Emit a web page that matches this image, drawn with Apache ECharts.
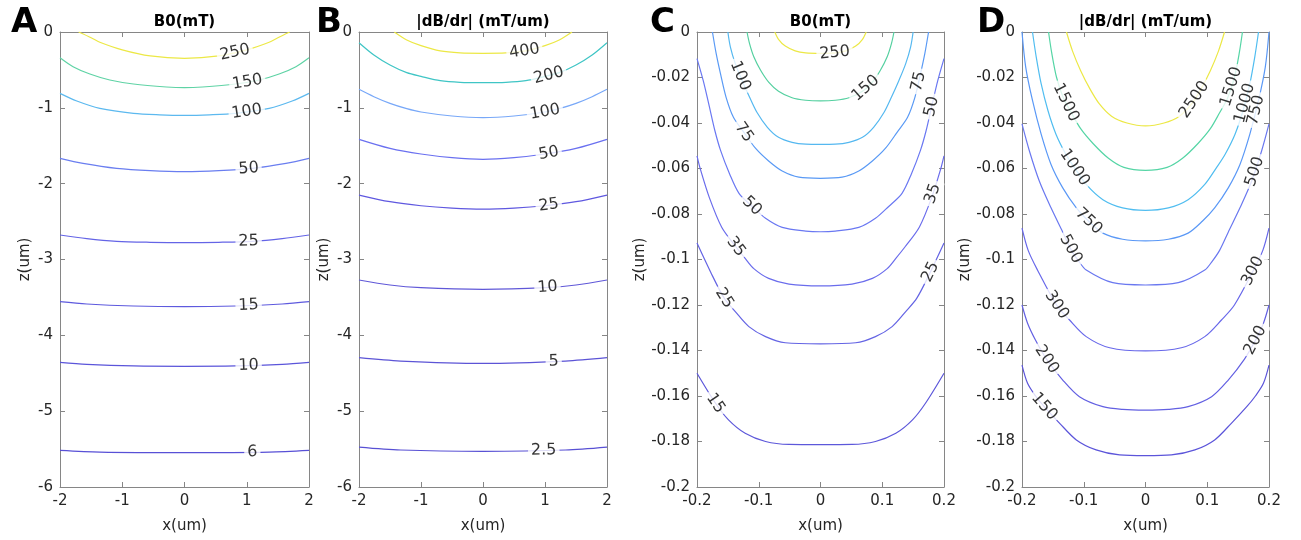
<!DOCTYPE html>
<html>
<head>
<meta charset="utf-8">
<script src="https://cdn.jsdelivr.net/npm/echarts@6/dist/echarts.min.js"></script>
<style>
html,body{margin:0;padding:0;background:#fff}
#chart{width:1301px;height:540px}
</style>
</head>
<body>
<div id="chart"></div>
<script>
// contour levels and lines, every line is [x, z] pairs from left to right
const levelsA = [250, 150, 100, 50, 25, 15, 10, 6];
const linesA = [
  [[-1.70,0],[-1.50,-0.075],[-1.36,-0.135],[-1.0,-0.235],[-0.55,-0.316],[0,-0.347],[0.55,-0.316],[1.0,-0.235],[1.36,-0.135],[1.50,-0.075],[1.69,0]],
  [[-2,-0.339],[-1.79,-0.457],[-1.52,-0.554],[-1.2,-0.633],[-0.82,-0.686],[-0.29,-0.725],[0,-0.734],[0.29,-0.725],[0.82,-0.686],[1.2,-0.633],[1.52,-0.554],[1.79,-0.457],[2,-0.339]],
  [[-2,-0.809],[-1.73,-0.91],[-1.36,-1.007],[-0.82,-1.073],[-0.4,-1.092],[0,-1.099],[0.4,-1.092],[0.82,-1.073],[1.36,-1.007],[1.73,-0.91],[2,-0.809]],
  [[-2,-1.666],[-1.63,-1.732],[-1.09,-1.798],[-0.55,-1.829],[0,-1.842],[0.55,-1.829],[1.09,-1.798],[1.63,-1.732],[2,-1.666]],
  [[-2,-2.677],[-1.57,-2.725],[-1.09,-2.76],[-0.55,-2.773],[0,-2.778],[0.55,-2.773],[1.09,-2.76],[1.57,-2.725],[2,-2.677]],
  [[-2,-3.556],[-1.57,-3.587],[-0.82,-3.613],[0,-3.622],[0.82,-3.613],[1.57,-3.587],[2,-3.556]],
  [[-2,-4.356],[-1.57,-4.382],[-0.82,-4.404],[0,-4.409],[0.82,-4.404],[1.57,-4.382],[2,-4.356]],
  [[-2,-5.517],[-1.36,-5.539],[0,-5.547],[1.36,-5.539],[2,-5.517]]
];
const labelsA = [[250,0.81],[150,1.01],[100,1.0],[50,1.03],[25,1.03],[15,1.03],[10,1.03],[6,1.09]];

const levelsB = [400, 200, 100, 50, 25, 10, 5, 2.5];
const linesB = [
  [[-1.43,0],[-1.23,-0.105],[-1.0,-0.18],[-0.69,-0.25],[-0.37,-0.276],[0,-0.281],[0.37,-0.276],[0.69,-0.25],[1.0,-0.18],[1.23,-0.105],[1.435,0]],
  [[-2,-0.141],[-1.76,-0.303],[-1.5,-0.435],[-1.23,-0.536],[-1.0,-0.585],[-0.69,-0.642],[-0.37,-0.664],[0,-0.668],[0.37,-0.664],[0.69,-0.642],[1.0,-0.585],[1.23,-0.536],[1.5,-0.435],[1.76,-0.303],[2,-0.141]],
  [[-2,-0.756],[-1.76,-0.853],[-1.5,-0.941],[-1.23,-1.011],[-1.0,-1.055],[-0.5,-1.108],[0,-1.13],[0.5,-1.108],[1.0,-1.055],[1.23,-1.011],[1.5,-0.941],[1.76,-0.853],[2,-0.756]],
  [[-2,-1.415],[-1.5,-1.534],[-1.0,-1.609],[-0.5,-1.657],[0,-1.679],[0.5,-1.657],[1.0,-1.609],[1.5,-1.534],[2,-1.415]],
  [[-2,-2.15],[-1.5,-2.238],[-1.0,-2.291],[-0.5,-2.322],[0,-2.335],[0.5,-2.322],[1.0,-2.291],[1.5,-2.238],[2,-2.15]],
  [[-2,-3.27],[-1.5,-3.336],[-1.0,-3.371],[0,-3.393],[1.0,-3.371],[1.5,-3.336],[2,-3.27]],
  [[-2,-4.295],[-1.33,-4.339],[0,-4.37],[1.33,-4.339],[2,-4.295]],
  [[-2,-5.473],[-1.33,-5.512],[0,-5.53],[1.33,-5.512],[2,-5.473]]
];
const labelsB = [[400,0.67],[200,1.06],[100,1.0],[50,1.06],[25,1.06],[10,1.04],[5,1.14],[2.5,0.98]];

const levelsC = [250, 150, 100, 75, 50, 35, 25, 15];
const linesC = [
  [[-0.074,0],[-0.068,-0.0032],[-0.057,-0.0062],[-0.041,-0.0083],[-0.024,-0.0092],[0,-0.0094],[0.024,-0.0092],[0.041,-0.0083],[0.057,-0.0062],[0.068,-0.0032],[0.074,0]],
  [[-0.119,0],[-0.115,-0.005],[-0.108,-0.0109],[-0.097,-0.0168],[-0.084,-0.022],[-0.068,-0.026],[-0.046,-0.0289],[-0.024,-0.03],[0,-0.0303],[0.024,-0.03],[0.046,-0.0289],[0.068,-0.026],[0.084,-0.022],[0.097,-0.0168],[0.108,-0.0109],[0.115,-0.005],[0.119,0]],
  [[-0.15,0],[-0.146,-0.0065],[-0.138,-0.0139],[-0.127,-0.0213],[-0.115,-0.0286],[-0.103,-0.0353],[-0.086,-0.0419],[-0.068,-0.0463],[-0.046,-0.0485],[-0.024,-0.0493],[0,-0.0494],[0.024,-0.0493],[0.046,-0.0485],[0.068,-0.0463],[0.086,-0.0419],[0.103,-0.0353],[0.115,-0.0286],[0.127,-0.0213],[0.138,-0.0139],[0.146,-0.0065],[0.15,0]],
  [[-0.175,0],[-0.169,-0.0094],[-0.162,-0.0183],[-0.153,-0.0286],[-0.141,-0.0375],[-0.124,-0.0441],[-0.105,-0.0512],[-0.084,-0.0567],[-0.062,-0.0611],[-0.035,-0.0638],[0,-0.0643],[0.035,-0.0638],[0.062,-0.0611],[0.084,-0.0567],[0.105,-0.0512],[0.124,-0.0441],[0.141,-0.0375],[0.153,-0.0286],[0.162,-0.0183],[0.169,-0.0094],[0.175,0]],
  [[-0.2,-0.0117],[-0.19,-0.0213],[-0.181,-0.0316],[-0.171,-0.0434],[-0.162,-0.0519],[-0.147,-0.0625],[-0.132,-0.0709],[-0.11,-0.0768],[-0.089,-0.0819],[-0.062,-0.0859],[-0.024,-0.0875],[0,-0.0878],[0.024,-0.0875],[0.062,-0.0859],[0.089,-0.0819],[0.11,-0.0768],[0.132,-0.0709],[0.147,-0.0625],[0.162,-0.0519],[0.171,-0.0434],[0.181,-0.0316],[0.19,-0.0213],[0.2,-0.0117]],
  [[-0.2,-0.0545],[-0.195,-0.0599],[-0.18,-0.0728],[-0.16,-0.0858],[-0.137,-0.0944],[-0.122,-0.0995],[-0.108,-0.104],[-0.084,-0.1083],[-0.051,-0.1108],[0,-0.1116],[0.051,-0.1108],[0.084,-0.1083],[0.108,-0.104],[0.122,-0.0995],[0.137,-0.0944],[0.16,-0.0858],[0.18,-0.0728],[0.195,-0.0599],[0.2,-0.0545]],
  [[-0.2,-0.0928],[-0.178,-0.1055],[-0.156,-0.117],[-0.138,-0.1229],[-0.116,-0.1295],[-0.089,-0.1339],[-0.057,-0.1366],[0,-0.1371],[0.057,-0.1366],[0.089,-0.1339],[0.116,-0.1295],[0.138,-0.1229],[0.156,-0.117],[0.178,-0.1055],[0.2,-0.0928]],
  [[-0.2,-0.15],[-0.17,-0.1632],[-0.149,-0.1705],[-0.122,-0.1764],[-0.089,-0.18],[-0.051,-0.1813],[0,-0.1814],[0.051,-0.1813],[0.089,-0.18],[0.122,-0.1764],[0.149,-0.1705],[0.17,-0.1632],[0.2,-0.15]]
];
const labelsC = [[250,0.023],[150,0.073],[100,-0.13],[75,-0.124],[75,0.159],[50,-0.111],[50,0.18],[35,-0.137],[35,0.182],[25,-0.156],[25,0.178],[15,-0.17]];

const levelsD = [2500, 1500, 1000, 750, 500, 300, 200, 150];
const linesD = [
  [[-0.128,0],[-0.118,-0.0085],[-0.105,-0.017],[-0.09,-0.025],[-0.075,-0.0315],[-0.055,-0.037],[-0.03,-0.04],[0,-0.0413],[0.03,-0.04],[0.055,-0.037],[0.075,-0.0315],[0.09,-0.025],[0.105,-0.017],[0.118,-0.0085],[0.128,0]],
  [[-0.157,0],[-0.152,-0.009],[-0.144,-0.02],[-0.133,-0.029],[-0.12,-0.0355],[-0.105,-0.0425],[-0.085,-0.049],[-0.06,-0.0555],[-0.035,-0.0595],[0,-0.0608],[0.035,-0.0595],[0.06,-0.0555],[0.085,-0.049],[0.105,-0.0425],[0.12,-0.0355],[0.133,-0.029],[0.144,-0.02],[0.152,-0.009],[0.157,0]],
  [[-0.183,0],[-0.177,-0.0109],[-0.169,-0.0227],[-0.158,-0.0345],[-0.145,-0.0449],[-0.129,-0.0537],[-0.115,-0.0596],[-0.096,-0.067],[-0.069,-0.0737],[-0.037,-0.0773],[0,-0.0784],[0.037,-0.0773],[0.069,-0.0737],[0.096,-0.067],[0.115,-0.0596],[0.129,-0.0537],[0.145,-0.0449],[0.158,-0.0345],[0.169,-0.0227],[0.177,-0.0109],[0.183,0]],
  [[-0.2,0],[-0.194,-0.0154],[-0.183,-0.0301],[-0.169,-0.0449],[-0.153,-0.0582],[-0.134,-0.0685],[-0.112,-0.0773],[-0.092,-0.0832],[-0.069,-0.0884],[-0.037,-0.0911],[0,-0.0918],[0.037,-0.0911],[0.069,-0.0884],[0.092,-0.0832],[0.112,-0.0773],[0.134,-0.0685],[0.153,-0.0582],[0.169,-0.0449],[0.183,-0.0301],[0.194,-0.0154],[0.2,0]],
  [[-0.2,-0.0404],[-0.188,-0.0523],[-0.172,-0.0655],[-0.153,-0.0773],[-0.134,-0.088],[-0.12,-0.096],[-0.108,-0.1008],[-0.096,-0.1046],[-0.053,-0.1102],[0,-0.1112],[0.053,-0.1102],[0.096,-0.1046],[0.108,-0.1008],[0.12,-0.096],[0.134,-0.088],[0.153,-0.0773],[0.172,-0.0655],[0.188,-0.0523],[0.2,-0.0404]],
  [[-0.2,-0.0862],[-0.19,-0.096],[-0.175,-0.1046],[-0.144,-0.12],[-0.123,-0.1266],[-0.096,-0.1339],[-0.058,-0.1388],[0,-0.1402],[0.058,-0.1388],[0.096,-0.1339],[0.123,-0.1266],[0.144,-0.12],[0.175,-0.1046],[0.19,-0.096],[0.2,-0.0862]],
  [[-0.2,-0.12],[-0.191,-0.128],[-0.178,-0.1355],[-0.16,-0.1439],[-0.134,-0.153],[-0.107,-0.1603],[-0.069,-0.1647],[-0.037,-0.1659],[0,-0.1662],[0.037,-0.1659],[0.069,-0.1647],[0.107,-0.1603],[0.134,-0.153],[0.16,-0.1439],[0.178,-0.1355],[0.191,-0.128],[0.2,-0.12]],
  [[-0.2,-0.1464],[-0.191,-0.1544],[-0.178,-0.16],[-0.164,-0.1647],[-0.139,-0.172],[-0.112,-0.1793],[-0.08,-0.1837],[-0.042,-0.1859],[0,-0.1862],[0.042,-0.1859],[0.08,-0.1837],[0.112,-0.1793],[0.139,-0.172],[0.164,-0.1647],[0.178,-0.16],[0.191,-0.1544],[0.2,-0.1464]]
];
const labelsD = [[2500,0.079],[1500,-0.129],[1500,0.139],[1000,-0.115],[1000,0.161],[750,-0.092],[750,0.179],[500,-0.121],[500,0.177],[300,-0.144],[300,0.174],[200,-0.16],[200,0.178],[150,-0.164]];

// line colours, one per level
const colorsA = ['#ece845','#5fd3a5','#5cb9ef','#6a7ef0','#6464e6','#5e5ade','#5b55da','#5850d6'];
const colorsB = ['#ece845','#3fc5c5','#78a8f8','#6a70f0','#5f58e0','#6058d8','#5c54d6','#5850d4'];
const colorsC = ['#ece845','#55d0a0','#55b8f0','#5a9af5','#6a78f2','#6a6cec','#6464e4','#5d58da'];
const colorsD = ['#ece845','#55d5a5','#50bdf0','#5a98f6','#6a78f0','#6868ea','#6360e2','#5c55da'];

const FONT = 'DejaVu Sans';
const panels = [
  {letter:'A', letterLeft:6,   grid:{left:60,  top:32, width:249, height:455}, xr:[-2,2,1],       yr:[-6,0,1],      title:'B0(mT)',          yGap:27, levels:levelsA, lines:linesA, labels:labelsA, colors:colorsA},
  {letter:'B', letterLeft:311, grid:{left:359, top:32, width:248, height:455}, xr:[-2,2,1],       yr:[-6,0,1],      title:'|dB/dr| (mT/um)', yGap:27, levels:levelsB, lines:linesB, labels:labelsB, colors:colorsB},
  {letter:'C', letterLeft:645, grid:{left:697, top:32, width:247, height:455}, xr:[-0.2,0.2,0.1], yr:[-0.2,0,0.02], title:'B0(mT)',          yGap:44, levels:levelsC, lines:linesC, labels:labelsC, colors:colorsC},
  {letter:'D', letterLeft:972, grid:{left:1022,top:32, width:247, height:455}, xr:[-0.2,0.2,0.1], yr:[-0.2,0,0.02], title:'|dB/dr| (mT/um)', yGap:43, levels:levelsD, lines:linesD, labels:labelsD, colors:colorsD}
];

const axisColor = '#868686';
const txt = {color:'#262626', fontSize:15, fontFamily:FONT};

function axis(p, i, pos, main) {
  const horiz = pos === 'bottom' || pos === 'top';
  const r = horiz ? p.xr : p.yr;
  const a = {
    gridIndex:i, type:'value', position:pos, min:r[0], max:r[1], interval:r[2],
    axisLine:{onZero:false, lineStyle:{color:axisColor, width:1}},
    axisTick:{show:true, inside:true, length:5, lineStyle:{color:axisColor}},
    axisLabel:{show:main, margin:7, ...txt},
    splitLine:{show:false}
  };
  if (pos === 'bottom') Object.assign(a, {name:'x(um)', nameLocation:'middle', nameGap:32, nameTextStyle:txt});
  if (pos === 'left') Object.assign(a, {name:'z(um)', nameLocation:'middle', nameGap:p.yGap, nameTextStyle:txt});
  if (pos === 'top') Object.assign(a, {name:p.title, nameLocation:'middle', nameGap:2,
    nameTextStyle:{color:'#000', fontSize:15, fontWeight:'bold', fontFamily:FONT}});
  return a;
}

function zAt(line, x) {
  for (let k = 0; k < line.length - 1; k++) {
    const a = line[k], b = line[k + 1];
    if (x >= a[0] && x <= b[0]) return a[1] + (b[1] - a[1]) * (x - a[0]) / (b[0] - a[0]);
  }
  return null;
}

const chart = echarts.init(document.getElementById('chart'));
const lineSeries = [];
panels.forEach((p, i) => {
  p.lines.forEach((ln, j) => {
    lineSeries.push({
      type:'line', xAxisIndex:i, yAxisIndex:i, data:ln, symbol:'none', showSymbol:false,
      smooth:0.3, silent:true, animation:false,
      lineStyle:{color:p.colors[j], width:1.2}
    });
  });
});

chart.setOption({
  backgroundColor:'#fff',
  animation:false,
  title: panels.map(p => ({text:p.letter, left:p.letterLeft, top:1,
    textStyle:{fontSize:34, fontWeight:'bold', fontFamily:FONT, color:'#000'}})),
  grid: panels.map(p => p.grid),
  xAxis: panels.map((p, i) => axis(p, i, 'bottom', true)).concat(panels.map((p, i) => axis(p, i, 'top', false))),
  yAxis: panels.map((p, i) => axis(p, i, 'left', true)).concat(panels.map((p, i) => axis(p, i, 'right', false))),
  series: lineSeries
});

// contour labels sit on the lines, turned along the local slope
const labelSeries = panels.map((p, i) => {
  const h = (p.xr[1] - p.xr[0]) * 0.015;
  const data = p.labels.map(([lev, x]) => {
    const ln = p.lines[p.levels.indexOf(lev)];
    const a = chart.convertToPixel({xAxisIndex:i, yAxisIndex:i}, [x - h, zAt(ln, x - h)]);
    const b = chart.convertToPixel({xAxisIndex:i, yAxisIndex:i}, [x + h, zAt(ln, x + h)]);
    const ang = -Math.atan2(b[1] - a[1], b[0] - a[0]) * 180 / Math.PI;
    return {name:String(lev), value:[x, zAt(ln, x)], label:{rotate:ang}};
  });
  return {
    type:'scatter', xAxisIndex:i, yAxisIndex:i, data, symbolSize:1, silent:true, z:5,
    itemStyle:{color:'rgba(0,0,0,0)'},
    label:{show:true, position:'inside', formatter:q => q.name, color:'#000', fontSize:16,
      fontFamily:FONT, backgroundColor:'#fff', padding:[0,3]}
  };
});
chart.setOption({series: lineSeries.concat(labelSeries)});
</script>
</body>
</html>
